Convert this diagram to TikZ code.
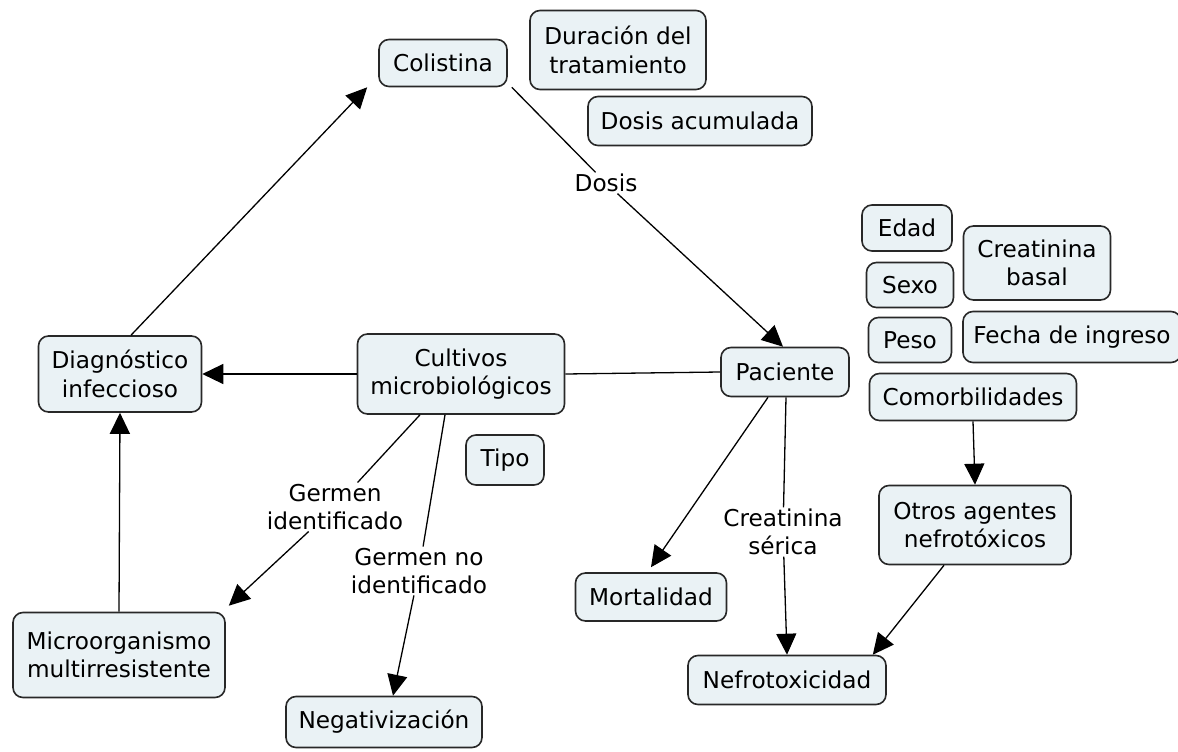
\documentclass[tikz,border=0pt]{standalone}
\usepackage{fontspec}
\setmainfont{DejaVu Sans}
\usetikzlibrary{arrows.meta}
\definecolor{boxfill}{RGB}{234,242,245}
\definecolor{boxline}{RGB}{40,40,40}
\tikzset{
  concept/.style={draw=boxline, fill=boxfill, line width=1.6pt, rounded corners=10pt,
    align=center, inner sep=2pt, font=\fontsize{23.2}{28.5}\selectfont, text=black},
  lbl/.style={align=center, inner sep=1.5pt, fill=white, font=\fontsize{23.2}{28}\selectfont, text=black},
  link/.style={draw=black, line width=1.3pt},
  arr/.style={link, -{Triangle[length=21pt,width=20pt]}}
}
\begin{document}
\begin{tikzpicture}[x=1pt,y=-1pt]
\useasboundingbox[fill=white] (0,0) rectangle (1178,752);
% concepts
\node[concept, minimum width=128pt, minimum height=47pt] (coli) at (443,63) {Colistina};
\node[concept, minimum width=176pt, minimum height=79pt] (dur) at (618,50) {Duración del\\tratamiento};
\node[concept, minimum width=224pt, minimum height=49pt] (dosisac) at (700,121) {Dosis acumulada};
\node[concept, minimum width=90pt, minimum height=46pt] (edad) at (907,228) {Edad};
\node[concept, minimum width=147pt, minimum height=74pt] (creab) at (1037,263) {Creatinina\\basal};
\node[concept, minimum width=87pt, minimum height=45pt] (sexo) at (910,285) {Sexo};
\node[concept, minimum width=83pt, minimum height=45pt] (peso) at (910,340) {Peso};
\node[concept, minimum width=218pt, minimum height=51pt] (fecha) at (1072,337) {Fecha de ingreso};
\node[concept, minimum width=128pt, minimum height=49pt] (pac) at (785,372) {Paciente};
\node[concept, minimum width=207pt, minimum height=47pt] (comor) at (973,397) {Comorbilidades};
\node[concept, minimum width=163pt, minimum height=76pt] (diag) at (120,374) {Diagnóstico\\infeccioso};
\node[concept, minimum width=207pt, minimum height=80pt] (cult) at (461,374) {Cultivos\\microbiológicos};
\node[concept, minimum width=78pt, minimum height=50pt] (tipo) at (505,460) {Tipo};
\node[concept, minimum width=192pt, minimum height=79pt] (otros) at (975,525) {Otros agentes\\nefrotóxicos};
\node[concept, minimum width=151pt, minimum height=48pt] (mort) at (651,597) {Mortalidad};
\node[concept, minimum width=212pt, minimum height=85pt] (micro) at (119,655) {Microorganismo\\multirresistente};
\node[concept, minimum width=198pt, minimum height=49pt] (nefro) at (787,680) {Nefrotoxicidad};
\node[concept, minimum width=196pt, minimum height=51pt] (neg) at (384,722) {Negativización};
% link labels
\node[lbl] (ldosis) at (606,183) {Dosis};
\node[lbl] (lgid) at (335,507) {Germen\\identificado};
\node[lbl] (lgnid) at (419,571) {Germen no\\identificado};
\node[lbl] (lcrea) at (783,532) {Creatinina\\sérica};
% connectors
\draw[arr] ([xshift=11pt]diag.north) -- ([xshift=-11pt]coli.south west);
\draw[link] ([xshift=4pt]coli.south east) -- (ldosis);
\draw[arr] (ldosis) -- ([xshift=-2pt]pac.north);
\draw[arr] (cult.west) -- (diag.east);
\draw[link] (cult.east) -- (pac.west);
\draw[arr] (micro.north) -- (diag.south);
\draw[link] ([xshift=-41pt]cult.south) -- (lgid);
\draw[arr] (lgid) -- ([xshift=3pt,yshift=6pt]micro.north east);
\draw[link] ([xshift=-16pt]cult.south) -- (lgnid);
\draw[arr] (lgnid) -- ([xshift=9pt]neg.north);
\draw[arr] ([xshift=-17pt]pac.south) -- ([yshift=5pt]mort.north);
\draw[link] ([xshift=1pt]pac.south) -- (lcrea);
\draw[arr] (lcrea) -- (nefro.north);
\draw[arr] (comor.south) -- (otros.north);
\draw[arr] ([xshift=-31pt]otros.south) -- ([xshift=-14pt]nefro.north east);
\end{tikzpicture}
\end{document}
